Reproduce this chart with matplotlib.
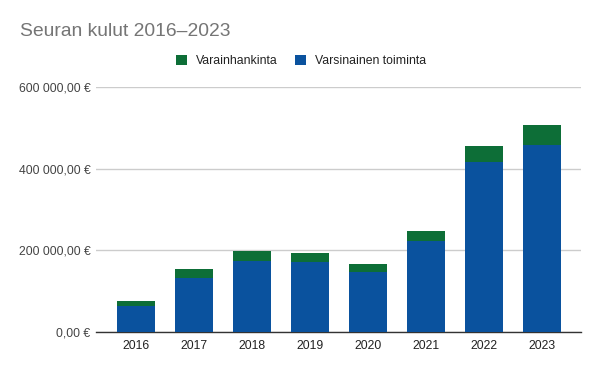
import numpy as np
import matplotlib
matplotlib.use("Agg")
import matplotlib.pyplot as plt
from matplotlib.ticker import FuncFormatter

plt.rcParams['font.family'] = ['Liberation Sans', 'DejaVu Sans']

years = ["2016", "2017", "2018", "2019", "2020", "2021", "2022", "2023"]
toiminta = [64000, 133000, 174000, 171000, 148000, 223000, 417000, 458000]
varainhankinta = [12000, 21000, 24000, 22000, 18000, 24000, 38000, 49000]

green = "#0d6e37"
blue = "#0a529e"

fig = plt.figure(figsize=(6, 3.71), dpi=100)
ax = fig.add_axes([96 / 600, 1 - 332 / 371, 485 / 600, (332 - 87.3) / 371])

x = np.arange(len(years))
ax.bar(x, toiminta, width=0.655, color=blue, label="Varsinainen toiminta", zorder=3)
ax.bar(x, varainhankinta, width=0.655, bottom=toiminta, color=green,
       label="Varainhankinta", zorder=3)

ax.set_xlim(-0.69, 7.67)
ax.set_ylim(0, 600000)
ax.set_yticks([0, 200000, 400000, 600000])
ax.yaxis.set_major_formatter(FuncFormatter(
    lambda v, p: "{:,.2f}".format(v).replace(",", " ").replace(".", ",") + " €"))
ax.set_xticks(x)
ax.set_xticklabels(years)

ax.grid(axis="y", color="#cccccc", linewidth=1, zorder=0)
for s in ["top", "right", "left"]:
    ax.spines[s].set_visible(False)
ax.spines["bottom"].set_color("#333333")
ax.spines["bottom"].set_linewidth(1)
ax.tick_params(axis="y", length=0, pad=4, labelsize=8.8, labelcolor="#444444")
ax.tick_params(axis="x", length=0, pad=6, labelsize=8.8, labelcolor="#222222")

fig.text(20 / 600, 1 - 32 / 371, "Seuran kulut 2016–2023", fontsize=13.9,
         color="#757575", va="center", ha="left")

handles, labels = ax.get_legend_handles_labels()
fig.legend(handles[::-1], labels[::-1], loc="center", ncol=2,
           bbox_to_anchor=(301 / 600, 1 - 61 / 371), frameon=False,
           fontsize=8.8, handlelength=0.95, handleheight=0.95, handletextpad=0.7,
           columnspacing=1.4, labelcolor="#222222")

fig.savefig("out.png", dpi=100)
